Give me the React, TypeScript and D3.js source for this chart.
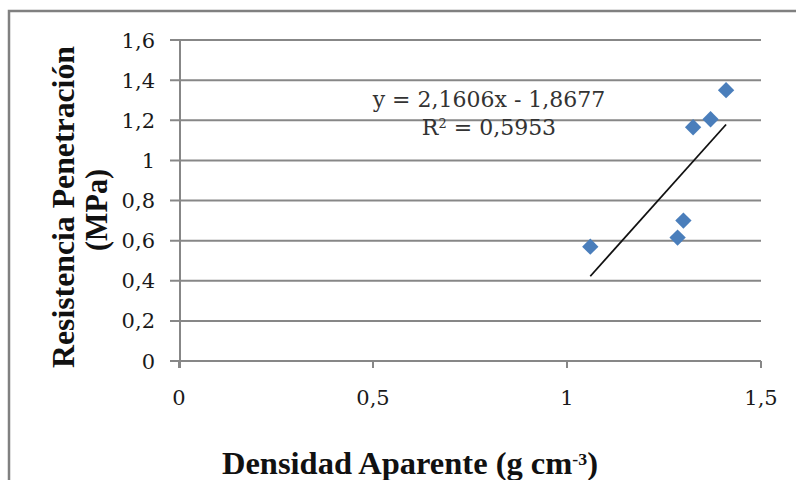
import React from "react";
import * as d3 from "d3";

// values
const densidad = [1.06, 1.285, 1.3, 1.325, 1.37, 1.41];
const resistencia = [0.57, 0.615, 0.7, 1.165, 1.205, 1.35];
const xTicks = [0, 0.5, 1, 1.5];
const yTicks = [0, 0.2, 0.4, 0.6, 0.8, 1, 1.2, 1.4, 1.6];
const slope = 2.1606;
const intercept = -1.8677;
const eqLabel = "y = 2,1606x - 1,8677";
const r2Label = "0,5953";

const fmt = (v: number) => String(v).replace(".", ",");

const App = () => {
  const W = 796;
  const H = 480;
  const plot = { left: 180, right: 761, top: 40, bottom: 361 };

  const x = d3.scaleLinear().domain([0, 1.5]).range([plot.left - 1, plot.right]);
  const y = d3.scaleLinear().domain([0, 1.6]).range([plot.bottom, plot.top]);

  const points = densidad.map((d, i) => ({ x: d, y: resistencia[i] }));
  const [x0, x1] = d3.extent(densidad) as [number, number];
  const trend = d3
    .line<number>()
    .x((d) => x(d))
    .y((d) => y(slope * d + intercept))([x0, x1]);

  const diamond = d3.symbol().type(d3.symbolDiamond2).size(170)();

  const gridColor = "#878787";
  const tickFont = "'DejaVu Serif', serif";
  const titleFont = "'Liberation Serif', 'Times New Roman', serif";

  return (
    <svg
      width={W}
      height={H}
      style={{ position: "absolute", left: 0, top: 0, background: "#fff" }}
    >
      <rect x={9} y={11} width={W + 20} height={H + 20} fill="#fff" stroke="#808080" strokeWidth={2.5} />

      {/* gridlines + y ticks */}
      {yTicks.map((t) => (
        <g key={"y" + t}>
          <line x1={plot.left - 10} x2={plot.right} y1={y(t)} y2={y(t)} stroke={gridColor} strokeWidth={2} />
          <text
            x={155}
            y={y(t)}
            dy="0.36em"
            textAnchor="end"
            fontFamily={tickFont}
            fontSize={21}
            fill="#1a1a1a"
          >
            {fmt(t)}
          </text>
        </g>
      ))}

      {/* y axis */}
      <line x1={plot.left} x2={plot.left} y1={plot.top} y2={plot.bottom + 7} stroke={gridColor} strokeWidth={2} />

      {/* x ticks */}
      {xTicks.map((t) => (
        <g key={"x" + t}>
          <line x1={x(t)} x2={x(t)} y1={plot.bottom} y2={plot.bottom + 7} stroke={gridColor} strokeWidth={2} />
          <text
            x={x(t)}
            y={405}
            textAnchor="middle"
            fontFamily={tickFont}
            fontSize={21}
            fill="#1a1a1a"
          >
            {fmt(t)}
          </text>
        </g>
      ))}

      {/* trendline */}
      <path d={trend ?? ""} fill="none" stroke="#111" strokeWidth={1.8} />

      {/* markers */}
      {points.map((p, i) => (
        <path
          key={i}
          d={diamond ?? ""}
          transform={`translate(${x(p.x)},${y(p.y)})`}
          fill="#4a7ebb"
        />
      ))}

      {/* equation */}
      <text x={489} y={107} textAnchor="middle" fontFamily={tickFont} fontSize={22} fill="#333">
        {eqLabel}
      </text>
      <text x={489} y={135} textAnchor="middle" fontFamily={tickFont} fontSize={22} fill="#333">
        R<tspan baselineShift="super" fontSize={13}>2</tspan> = {r2Label}
      </text>

      {/* axis titles */}
      <text
        transform="translate(74,207) rotate(-90)"
        textAnchor="middle"
        fontFamily={titleFont}
        fontWeight="bold"
        fontSize={31}
        textLength={322}
        lengthAdjust="spacingAndGlyphs"
        fill="#111"
      >
        Resistencia Penetración
      </text>
      <text
        transform="translate(107,210) rotate(-90)"
        textAnchor="middle"
        fontFamily={titleFont}
        fontWeight="bold"
        fontSize={31}
        textLength={82}
        lengthAdjust="spacingAndGlyphs"
        fill="#111"
      >
        (MPa)
      </text>
      <text
        x={410}
        y={474}
        textAnchor="middle"
        fontFamily={titleFont}
        fontWeight="bold"
        fontSize={31}
        textLength={376}
        lengthAdjust="spacingAndGlyphs"
        fill="#111"
      >
        Densidad Aparente (g cm<tspan baselineShift="super" fontSize={17}>-3</tspan>)
      </text>
    </svg>
  );
};

export default App;
